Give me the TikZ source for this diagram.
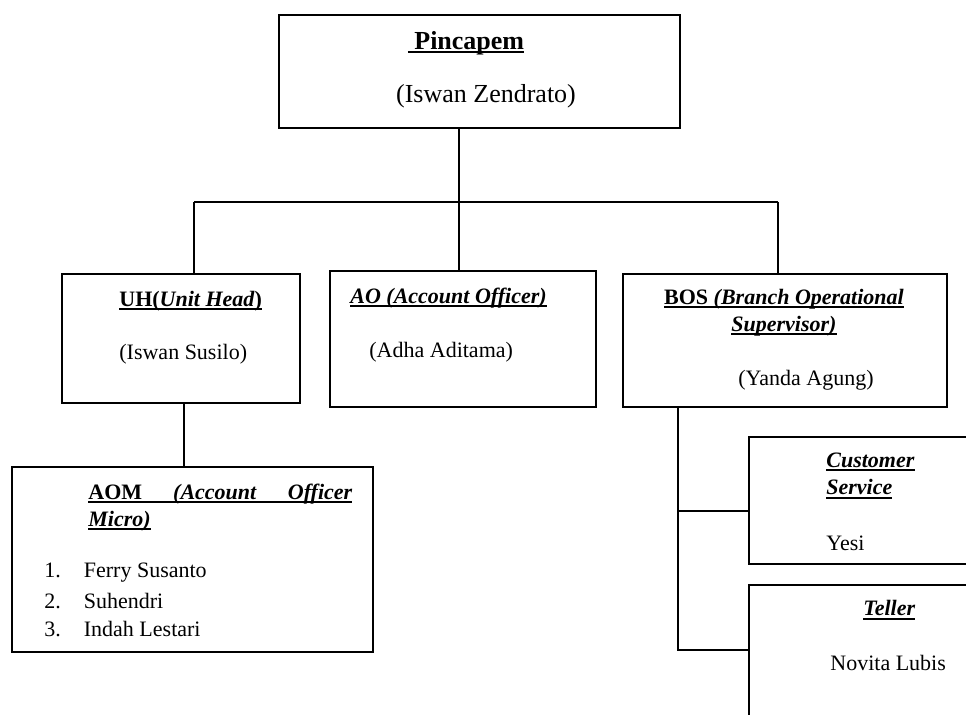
\documentclass[tikz,border=0pt]{standalone}
\usepackage{fontspec}
\setmainfont{Liberation Serif}
\newcommand{\thickul}[1]{\setbox0\hbox{#1}\leavevmode\rlap{\rule[-1.9pt]{\wd0}{1pt}}\box0}
\tikzset{
  box/.style = {draw, line width=1.1pt, anchor=north west, inner sep=0pt},
  txt/.style = {anchor=west, inner sep=0pt},
  big/.style = {font=\fontsize{13}{15.6}\selectfont}
}
\begin{document}
\begin{tikzpicture}[x = 0.5pt, y = -0.5pt, font=\fontsize{11}{13.2}\selectfont]
  \useasboundingbox (0,0) rectangle (966,715);
  \clip (0,0) rectangle (966,715);
  \node [box, minimum width=200.5pt, minimum height=56.5pt] (pincapem) at (278,14) {};
  \node [box, minimum width=119pt, minimum height=64.5pt] (uh) at (61,273) {};
  \node [box, minimum width=133pt, minimum height=68pt] (ao) at (329,270) {};
  \node [box, minimum width=162pt, minimum height=66.5pt] (bos) at (622,273) {};
  \node [box, minimum width=180.5pt, minimum height=92.5pt] (aom) at (11,466) {};
  \node [box, minimum width=120pt, minimum height=63.5pt] (cs) at (748,436) {};
  \node [box, minimum width=120pt, minimum height=80pt] (teller) at (748,584) {};
  \draw (466,43) node [big] (pincapemT) {\thickul{\textbf{ Pincapem}}};
  \draw (486,96) node [big] (pincapemN) {(Iswan Zendrato)};
  \draw (119,301) node [txt] (uhT) {\thickul{\textbf{UH(\textit{Unit Head})}}};
  \draw (119,354) node [txt] (uhN) {(Iswan Susilo)};
  \draw (350,298) node [txt] (aoT) {\thickul{\textbf{\textit{AO (Account Officer)}}}};
  \draw (369,352) node [txt] (aoN) {(Adha Aditama)};
  \draw (784,299) node (bosT) {\thickul{\textbf{BOS \textit{(Branch Operational}}}};
  \draw (784,326) node (bosT2) {\thickul{\textbf{\textit{Supervisor)}}}};
  \draw (738,380) node [txt] (bosN) {(Yanda Agung)};
  \draw (88,494) node [txt] (aomT) {\thickul{\makebox[132pt][s]{\textbf{AOM} \textbf{\textit{(Account}} \textbf{\textit{Officer}}}}};
  \draw (88,521) node [txt] (aomT2) {\thickul{\textbf{\textit{Micro)}}}};
  \draw (44,573) node [txt] (aom1) {1.\hspace{11.5pt}Ferry Susanto};
  \draw (44,601) node [txt] (aom2) {2.\hspace{11.5pt}Suhendri};
  \draw (44,629) node [txt] (aom3) {3.\hspace{11.5pt}Indah Lestari};
  \draw (826,462) node [txt] (csT) {\thickul{\textbf{\textit{Customer}}}};
  \draw (826,489) node [txt] (csT2) {\thickul{\textbf{\textit{Service}}}};
  \draw (826,543) node [txt] (csN) {Yesi};
  \draw (863,610) node [txt] (tellerT) {\thickul{\textbf{\textit{Teller}}}};
  \draw (830,663) node [txt] (tellerN) {Novita Lubis};
  \coordinate (barL) at (194,202);
  \coordinate (barM) at (459,202);
  \coordinate (barR) at (778,202);
  \coordinate (uhlink) at (184,0);
  \coordinate (boslink) at (678,650);
  \coordinate (csjoin) at (678,511);
  \begin{scope}[line width=1.1pt]
  \draw (barM |- pincapem.south) -- (barM);
  \draw (barL) -- (barR);
  \draw (barL) -- (barL |- uh.north);
  \draw (barM) -- (barM |- ao.north);
  \draw (barR) -- (barR |- bos.north);
  \draw (uhlink |- uh.south) -- (uhlink |- aom.north);
  \draw (boslink |- bos.south) -- (boslink) -- (boslink -| teller.west);
  \draw (csjoin) -- (csjoin -| cs.west);
  \end{scope}
\end{tikzpicture}
\end{document}
